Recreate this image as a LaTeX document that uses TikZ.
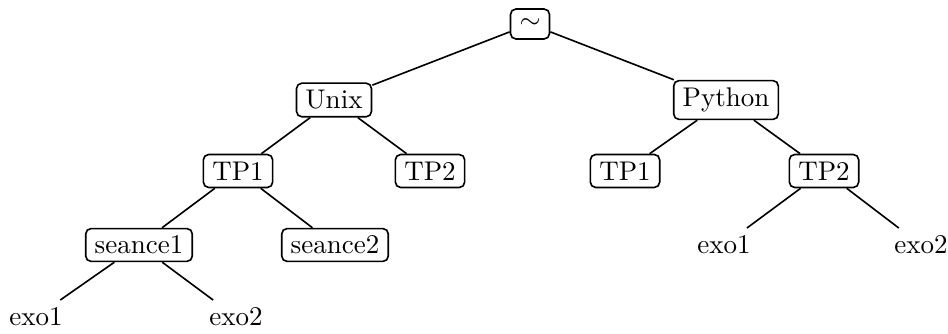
\documentclass[tikz,border=0pt]{standalone}
\begin{document}
\begin{tikzpicture}[x=0.3704pt,y=-0.3704pt,
  box/.style={draw,rounded corners=2pt,inner xsep=3.33pt,inner ysep=2.7pt,line width=0.6pt},
  leaf/.style={inner xsep=3.33pt,inner ysep=2.7pt},
  link/.style={line width=0.6pt}]
\useasboundingbox (0,0) rectangle (948,334);
\node[box,minimum height=11.1pt] (root) at (530,24) {$\sim$};
\node[box] (unix) at (334,100) {Unix};
\node[box] (python) at (726,100) {Python};
\node[box] (utp1) at (238,171) {TP1};
\node[box] (utp2) at (430,171) {TP2};
\node[box] (ptp1) at (625,171) {TP1};
\node[box] (ptp2) at (824,171) {TP2};
\node[box] (s1) at (139,245) {seance1};
\node[box] (s2) at (335,245) {seance2};
\node[leaf] (e1) at (36,317) {exo1};
\node[leaf] (e2) at (236,317) {exo2};
\node[leaf] (pe1) at (724,245) {exo1};
\node[leaf] (pe2) at (921,245) {exo2};
\draw[link] (root) -- (unix);
\draw[link] (root) -- (python);
\draw[link] (unix) -- (utp1);
\draw[link] (unix) -- (utp2);
\draw[link] (python) -- (ptp1);
\draw[link] (python) -- (ptp2);
\draw[link] (utp1) -- (s1);
\draw[link] (utp1) -- (s2);
\draw[link] (s1) -- (e1);
\draw[link] (s1) -- (e2);
\draw[link] (ptp2) -- (pe1);
\draw[link] (ptp2) -- (pe2);
\end{tikzpicture}
\end{document}
